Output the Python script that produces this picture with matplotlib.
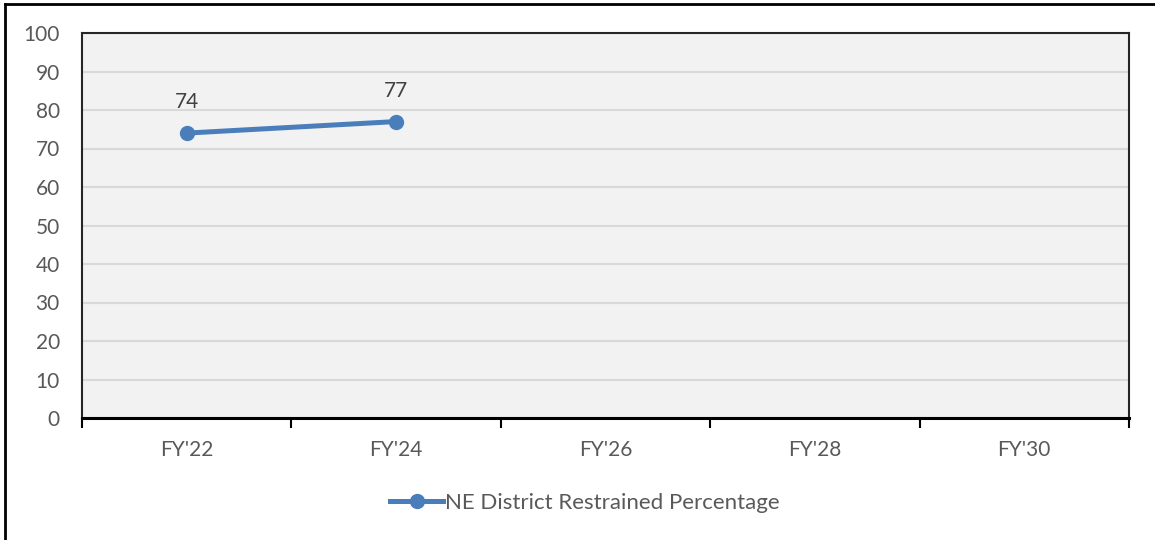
import matplotlib
matplotlib.use("Agg")
import matplotlib.pyplot as plt
from matplotlib.lines import Line2D

categories = ["FY'22", "FY'24", "FY'26", "FY'28", "FY'30"]
values = [74, 77]
series_name = "NE District Restrained Percentage"
y_ticks = [0, 10, 20, 30, 40, 50, 60, 70, 80, 90, 100]

plt.rcParams['font.family'] = ['Lato', 'DejaVu Sans']
txt = '#595959'
blue = '#4A7EBB'
fs = 15

fig = plt.figure(figsize=(11.55, 5.4), dpi=100)
ax = fig.add_axes([82/1155, 1-418/540, (1129-82)/1155, (418-33)/540])
ax.set_facecolor('#F2F2F2')

x = list(range(len(values)))
ax.plot(x, values, color=blue, lw=3.6, marker='o', markersize=10, zorder=3,
        solid_capstyle='round')
for xi, v in zip(x, values):
    ax.annotate(str(v), (xi, v), xytext=(0, 15), textcoords='offset points',
                ha='center', va='bottom', fontsize=fs, color='#404040')

ax.set_xlim(-0.5, len(categories) - 0.5)
ax.set_ylim(0, 100)
ax.set_yticks(y_ticks)
ax.set_yticklabels([str(t) for t in y_ticks], fontsize=fs, color=txt)
ax.set_xticks([i - 0.5 for i in range(len(categories) + 1)])
ax.set_xticklabels([])
ax.set_xticks(range(len(categories)), minor=True)
ax.set_xticklabels(categories, minor=True, fontsize=fs, color=txt)
ax.tick_params(axis='x', which='major', direction='out', length=7, width=1.5, color='black')
ax.tick_params(axis='x', which='minor', length=0, pad=16)
ax.tick_params(axis='y', length=0, pad=16)
ax.grid(axis='y', color='#D9D9D9', lw=1.5, zorder=0)
ax.set_axisbelow(True)
for s in ['left', 'top', 'right']:
    ax.spines[s].set_color('#262626')
    ax.spines[s].set_linewidth(1.5)
ax.spines['bottom'].set_color('black')
ax.spines['bottom'].set_linewidth(2.2)

handle = Line2D([], [], color=blue, lw=3.6, marker='o', markersize=10)
fig.legend([handle], [series_name], loc='center', bbox_to_anchor=(585/1155, 1-503/540),
           frameon=False, fontsize=16, labelcolor=txt, handlelength=2.4, handletextpad=0.1)

# outer chart border (top and left visible)
fig.add_artist(Line2D([5/1155, 5/1155], [0, 1-4/540], transform=fig.transFigure, color='black', lw=2))
fig.add_artist(Line2D([5/1155, 1], [1-4/540, 1-4/540], transform=fig.transFigure, color='black', lw=2))

fig.savefig('out.png', dpi=100)
